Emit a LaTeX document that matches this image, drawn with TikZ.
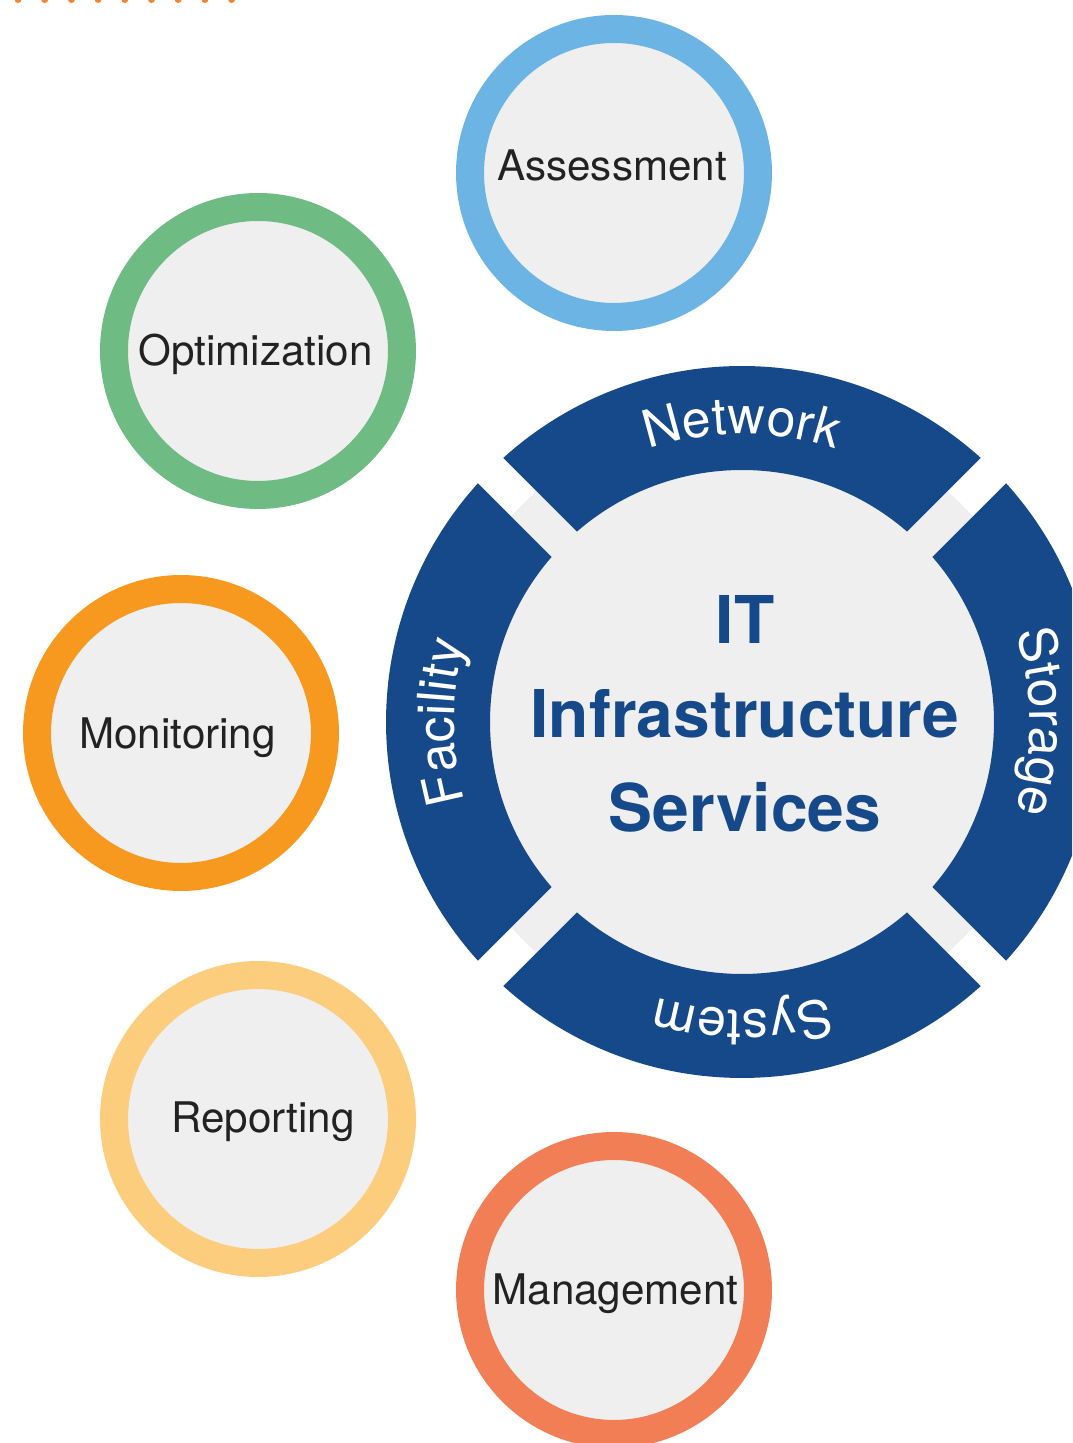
\documentclass[tikz,border=0pt]{standalone}
\usepackage{fontspec}
\setmainfont{TeX Gyre Heros}
\usetikzlibrary{calc,decorations.text}

\definecolor{ringblue}{HTML}{15498A}
\definecolor{hubgray}{HTML}{EFEFEF}
\definecolor{labeltext}{HTML}{222222}
\definecolor{dotorange}{HTML}{F58233}
\definecolor{assessblue}{HTML}{6CB4E4}
\definecolor{optgreen}{HTML}{6FBB84}
\definecolor{monorange}{HTML}{F7991E}
\definecolor{repyellow}{HTML}{FBCD7C}
\definecolor{mgmtcoral}{HTML}{F27E56}

\newcommand{\ringfont}{\fontsize{29.5}{32}\selectfont}

\begin{document}
\begin{tikzpicture}[x=0.02cm, y=0.02cm,
  sat/.style={circle, draw=#1, line width=0.56cm, fill=hubgray, minimum size=5.76cm, inner sep=0pt},
  satlabel/.style={anchor=base, text=labeltext, font=\fontsize{24}{27}\selectfont},
  hubtext/.style={align=center, text=ringblue, font=\bfseries\fontsize{37.5}{53.3}\selectfont},
  ringtext/.style={decorate, decoration={text along path, text align=center,
      text={|\ringfont\color{white}|#1}}}]
  \useasboundingbox (0,0) rectangle (1072,1443);
  \clip (0,0) rectangle (1072,1443);

  % dotted rule cut by the top edge
  \foreach \i in {0,...,8}
    \fill[dotorange] (18+26.7*\i,1443.5) circle[radius=3.5];

  % hub with its four blue segments
  \coordinate (hub) at (742,721);
  \fill[hubgray] (hub) circle[radius=309];
  \foreach \a/\word in {90/Network, 0/Storage, -90/System, 180/Facility}{
    \fill[ringblue] ($(hub)+(\a-40.9:252)$) -- ($(hub)+(\a-42.1:356)$)
      arc[start angle=\a-42.1, end angle=\a+42.1, radius=356]
      -- ($(hub)+(\a+40.9:252)$)
      arc[start angle=\a+40.9, end angle=\a-40.9, radius=252] -- cycle;
    \path[ringtext/.expand once=\word]
      ($(hub)+(\a+45:288)$) arc[start angle=\a+45, end angle=\a-45, radius=288];
  }
  \node[hubtext] (title) at (745,729) {IT\\Infrastructure\\Services};

  % satellite circles
  \node[sat=assessblue] (assess) at (614,1270) {};
  \node[sat=optgreen] (optim) at (258,1092) {};
  \node[sat=monorange] (monit) at (181,710) {};
  \node[sat=repyellow] (report) at (258,324) {};
  \node[sat=mgmtcoral] (manage) at (614,153) {};

  \node[satlabel] (assesstext) at ($(assess)+(-2,-8)$) {Assessment};
  \node[satlabel] (optimtext) at ($(optim)+(-2.5,-15)$) {Optimization};
  \node[satlabel] (monittext) at ($(monit)+(-3.5,-16)$) {Monitoring};
  \node[satlabel] (reporttext) at ($(report)+(5,-14)$) {Reporting};
  \node[satlabel] (managetext) at ($(manage)+(1.5,-15)$) {Management};
\end{tikzpicture}
\end{document}
